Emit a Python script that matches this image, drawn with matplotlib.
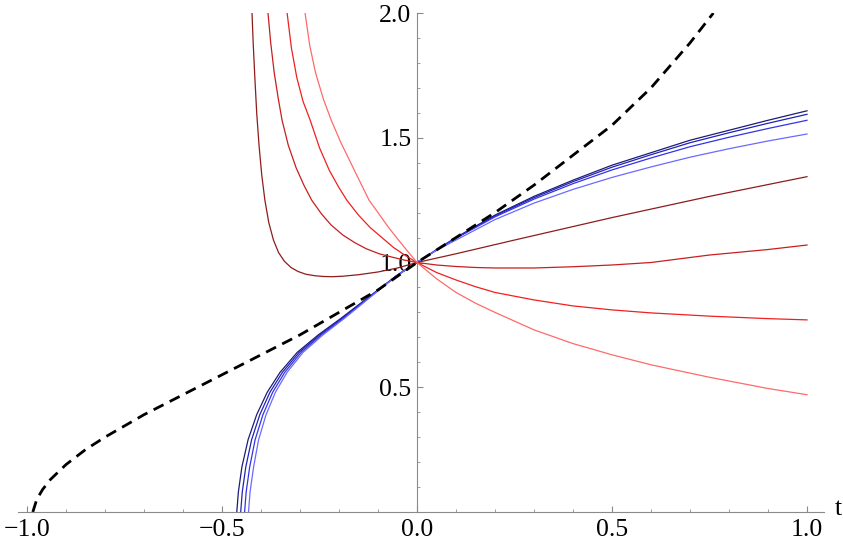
import matplotlib
matplotlib.use('agg')
import matplotlib.pyplot as plt
from matplotlib.ticker import MultipleLocator, FixedLocator

# dashed black curve
dash_t = [-0.985, -0.975, -0.96, -0.94, -0.9, -0.85, -0.8, -0.7, -0.6, -0.5, -0.4, -0.3, -0.2, -0.1,
          0.0, 0.1, 0.2, 0.3, 0.4, 0.5, 0.6, 0.7, 0.76]
dash_y = [0.0, 0.05, 0.09, 0.13, 0.19, 0.25, 0.30, 0.39, 0.47, 0.55, 0.63, 0.71, 0.80, 0.89,
          1.0, 1.1, 1.2, 1.31, 1.43, 1.55, 1.70, 1.88, 2.0]

# blue family
blue_right_t = [0.05, 0.1, 0.2, 0.3, 0.4, 0.5, 0.6, 0.7, 0.8, 0.9, 1.0]
blue_left_y = [0.0, 0.08, 0.18, 0.29, 0.39, 0.48, 0.56, 0.64, 0.71, 0.775, 0.89, 0.95, 1.0]
blue1_left_t = [-0.462, -0.458, -0.449, -0.433, -0.411, -0.384, -0.351, -0.307, -0.253, -0.196, -0.1, -0.05, 0.0]
blue2_left_t = [-0.452, -0.448, -0.439, -0.424, -0.403, -0.377, -0.345, -0.302, -0.249, -0.193, -0.099, -0.05, 0.0]
blue3_left_t = [-0.442, -0.438, -0.429, -0.415, -0.395, -0.37, -0.339, -0.297, -0.245, -0.19, -0.098, -0.049, 0.0]
blue4_left_t = [-0.432, -0.428, -0.419, -0.406, -0.387, -0.363, -0.333, -0.292, -0.241, -0.187, -0.097, -0.049, 0.0]
blue1_right_y = [1.051, 1.1, 1.19, 1.265, 1.33, 1.39, 1.44, 1.49, 1.53, 1.57, 1.608]
blue2_right_y = [1.05, 1.099, 1.187, 1.26, 1.324, 1.382, 1.432, 1.48, 1.52, 1.558, 1.594]
blue3_right_y = [1.05, 1.097, 1.183, 1.254, 1.316, 1.371, 1.419, 1.464, 1.502, 1.537, 1.570]
blue4_right_y = [1.049, 1.09, 1.172, 1.238, 1.293, 1.341, 1.383, 1.422, 1.456, 1.487, 1.515]

# red family
red1_t = [-0.423, -0.42, -0.416, -0.411, -0.405, -0.398, -0.39, -0.38, -0.368, -0.355, -0.34, -0.323,
          -0.305, -0.285, -0.262, -0.24, -0.218, -0.19, -0.15, -0.1, -0.05, 0.0,
          0.1, 0.25, 0.5, 0.75, 1.0]
red1_y = [2.0, 1.88, 1.75, 1.6, 1.47, 1.35, 1.25, 1.16, 1.09, 1.04, 1.005, 0.98,
          0.964, 0.953, 0.947, 0.944, 0.943, 0.945, 0.951, 0.962, 0.978, 1.0,
          1.035, 1.09, 1.18, 1.265, 1.344]
red2_t = [-0.382, -0.375, -0.366, -0.356, -0.346, -0.33, -0.31, -0.29, -0.27, -0.245, -0.22, -0.19,
          -0.16, -0.13, -0.097, -0.06, -0.03, 0.0,
          0.05, 0.1, 0.15, 0.2, 0.3, 0.4, 0.5, 0.6, 0.75, 0.9, 1.0]
red2_y = [2.0, 1.88, 1.76, 1.66, 1.571, 1.47, 1.38, 1.31, 1.25, 1.195, 1.15, 1.11,
          1.08, 1.055, 1.035, 1.02, 1.009, 1.0,
          0.99, 0.984, 0.98, 0.978, 0.978, 0.983, 0.99, 1.0, 1.03, 1.052, 1.07]
red3_t = [-0.333, -0.322, -0.308, -0.292, -0.274, -0.25, -0.225, -0.2, -0.18, -0.15, -0.12, -0.09,
          -0.06, -0.03, 0.0,
          0.05, 0.1, 0.15, 0.2, 0.3, 0.4, 0.5, 0.6, 0.75, 0.9, 1.0]
red3_y = [2.0, 1.86, 1.74, 1.645, 1.571, 1.46, 1.37, 1.3, 1.25, 1.19, 1.14, 1.1,
          1.06, 1.028, 1.0,
          0.96, 0.93, 0.903, 0.88, 0.85, 0.826, 0.81, 0.798, 0.785, 0.775, 0.77]
red4_t = [-0.287, -0.275, -0.26, -0.24, -0.22, -0.195, -0.17, -0.145, -0.123, -0.1, -0.075,
          -0.05, -0.025, 0.0,
          0.05, 0.1, 0.15, 0.2, 0.3, 0.4, 0.5, 0.6, 0.75, 0.9, 1.0]
red4_y = [2.0, 1.87, 1.76, 1.655, 1.571, 1.48, 1.4, 1.32, 1.25, 1.2, 1.145,
          1.095, 1.047, 1.0,
          0.935, 0.88, 0.837, 0.80, 0.73, 0.675, 0.63, 0.59, 0.54, 0.495, 0.47]

x_ticks = [-1.0, -0.5, 0.0, 0.5, 1.0]
y_ticks = [0.5, 1.0, 1.5, 2.0]

plt.rcParams['font.family'] = ['Liberation Serif', 'DejaVu Serif']
fig = plt.figure(figsize=(8.43, 5.44), dpi=100)
ax = fig.add_axes([18 / 843, 32 / 544, 806 / 843, 499 / 544])
ax.set_xlim(-1.023, 1.0436)
ax.set_ylim(0, 2.0)

blues = ['#1c1c78', '#2222b0', '#3333e6', '#6a6aff']
blue_lefts = [blue1_left_t, blue2_left_t, blue3_left_t, blue4_left_t]
blue_rights = [blue1_right_y, blue2_right_y, blue3_right_y, blue4_right_y]
for c, lt, ry in zip(blues, blue_lefts, blue_rights):
    ax.plot(lt + blue_right_t, blue_left_y + ry, color=c, lw=0.9)

reds = ['#8e1c1c', '#c81e1e', '#f02020', '#ff6a6a']
for c, t, y in zip(reds, [red1_t, red2_t, red3_t, red4_t], [red1_y, red2_y, red3_y, red4_y]):
    ax.plot(t, y, color=c, lw=0.9)

ax.plot(dash_t, dash_y, color='black', lw=2.0, dashes=(4, 2.5))

for s in ['top', 'right']:
    ax.spines[s].set_visible(False)
ax.spines['left'].set_position(('data', 0))
ax.spines['bottom'].set_position(('data', 0))
for s in ['left', 'bottom']:
    ax.spines[s].set_color('#8a8a8a')
    ax.spines[s].set_linewidth(0.8)

ax.xaxis.set_major_locator(FixedLocator(x_ticks))
ax.yaxis.set_major_locator(FixedLocator(y_ticks))
ax.xaxis.set_minor_locator(MultipleLocator(0.1))
ax.yaxis.set_minor_locator(MultipleLocator(0.1))
ax.set_xticklabels([f'{v:.1f}'.replace('-', '\u2212') for v in x_ticks])
ax.set_yticklabels([f'{v:.1f}' for v in y_ticks])
ax.tick_params(which='major', direction='in', length=4, width=0.8, color='#8a8a8a',
               labelsize=18.5, pad=5)
ax.tick_params(which='minor', direction='in', length=2.5, width=0.6, color='#8a8a8a')
ax.tick_params(axis='y', pad=4)

ax.annotate('t', xy=(1.0, 0.0), xycoords='axes fraction', xytext=(8, 2),
            textcoords='offset points', fontsize=18.5, ha='left', va='center',
            annotation_clip=False)

fig.savefig('out.png', dpi=100)
